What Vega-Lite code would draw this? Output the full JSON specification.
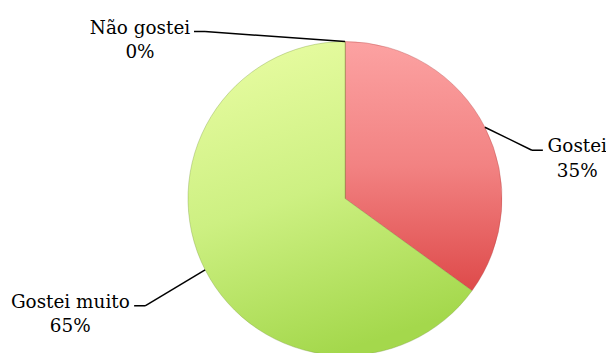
{
  "$schema": "https://vega.github.io/schema/vega-lite/v6.json",
  "width": 522,
  "height": 309,
  "autosize": "none",
  "padding": {"left": 84, "top": 44, "right": 0, "bottom": 0},
  "background": "white",
  "config": {"view": {"stroke": null}},
  "data": {
    "values": [
      {"cat": "Não gostei", "pct": 0},
      {"cat": "Gostei", "pct": 35},
      {"cat": "Gostei muito", "pct": 65}
    ]
  },
  "transform": [
    {"window": [{"op": "sum", "field": "pct", "as": "cum"}], "sort": [{"field": "cat"}], "frame": [null, 0]},
    {"calculate": "datum.cum - datum.pct", "as": "start"},
    {"calculate": "(datum.cum - datum.pct / 2) / 100 * 2 * PI", "as": "a"},
    {"calculate": "sin(datum.a) > 0.01 ? 1 : -1", "as": "side"},
    {"calculate": "157 * sin(datum.a)", "as": "x0"},
    {"calculate": "-157 * cos(datum.a)", "as": "y0"},
    {"calculate": "datum.x0 + (sin(datum.a) > 0.01 ? 47 : (sin(datum.a) < -0.01 ? -60 : -140))", "as": "x1"},
    {"calculate": "datum.y0 + (sin(datum.a) > 0.01 ? 23 : (sin(datum.a) < -0.01 ? 36 : -10))", "as": "y1"},
    {"calculate": "datum.x1 + datum.side * 11", "as": "x2"},
    {"calculate": "datum.x2 + datum.side * (5 + length(datum.cat) * 4.9)", "as": "xt"},
    {"calculate": "datum.cat + '\\n' + datum.pct + '%'", "as": "label"}
  ],
  "layer": [
    {
      "transform": [{"filter": "datum.cat === 'Gostei'"}],
      "mark": {
        "type": "arc", "radius": 157, "stroke": "#b04040", "strokeWidth": 0.6, "strokeOpacity": 0.6,
        "fill": {"gradient": "linear", "x1": 0, "y1": 0, "x2": 0, "y2": 1,
          "stops": [{"offset": 0, "color": "#fca2a2"}, {"offset": 0.5, "color": "#f28282"}, {"offset": 1, "color": "#de4a4a"}]}
      },
      "encoding": {
        "theta": {"field": "start", "type": "quantitative", "scale": {"domain": [0, 100]}},
        "theta2": {"field": "cum"}
      }
    },
    {
      "transform": [{"filter": "datum.cat !== 'Gostei'"}],
      "mark": {
        "type": "arc", "radius": 157, "stroke": "#7a9a40", "strokeWidth": 0.6, "strokeOpacity": 0.6,
        "fill": {"gradient": "linear", "x1": 0.2, "y1": 0, "x2": 0.5, "y2": 1,
          "stops": [{"offset": 0, "color": "#e8fca2"}, {"offset": 0.5, "color": "#cdf082"}, {"offset": 1, "color": "#a4d84c"}]}
      },
      "encoding": {
        "theta": {"field": "start", "type": "quantitative", "scale": {"domain": [0, 100]}},
        "theta2": {"field": "cum"}
      }
    },
    {
      "mark": {"type": "rule", "color": "black", "strokeWidth": 1.5},
      "encoding": {
        "x": {"field": "x0", "type": "quantitative", "scale": {"domain": [-261, 261]}, "axis": null},
        "y": {"field": "y0", "type": "quantitative", "scale": {"domain": [154.5, -154.5]}, "axis": null},
        "x2": {"field": "x1"},
        "y2": {"field": "y1"}
      }
    },
    {
      "mark": {"type": "rule", "color": "black", "strokeWidth": 1.5},
      "encoding": {
        "x": {"field": "x1", "type": "quantitative", "scale": {"domain": [-261, 261]}, "axis": null},
        "y": {"field": "y1", "type": "quantitative", "scale": {"domain": [154.5, -154.5]}, "axis": null},
        "x2": {"field": "x2"},
        "y2": {"field": "y1"}
      }
    },
    {
      "mark": {"type": "text", "font": "DejaVu Serif", "fontSize": 18.4, "align": "center", "baseline": "alphabetic", "lineHeight": 24.5, "lineBreak": "\n", "color": "black", "dy": 2},
      "encoding": {
        "x": {"field": "xt", "type": "quantitative", "scale": {"domain": [-261, 261]}, "axis": null},
        "y": {"field": "y1", "type": "quantitative", "scale": {"domain": [154.5, -154.5]}, "axis": null},
        "text": {"field": "label"}
      }
    }
  ]
}
